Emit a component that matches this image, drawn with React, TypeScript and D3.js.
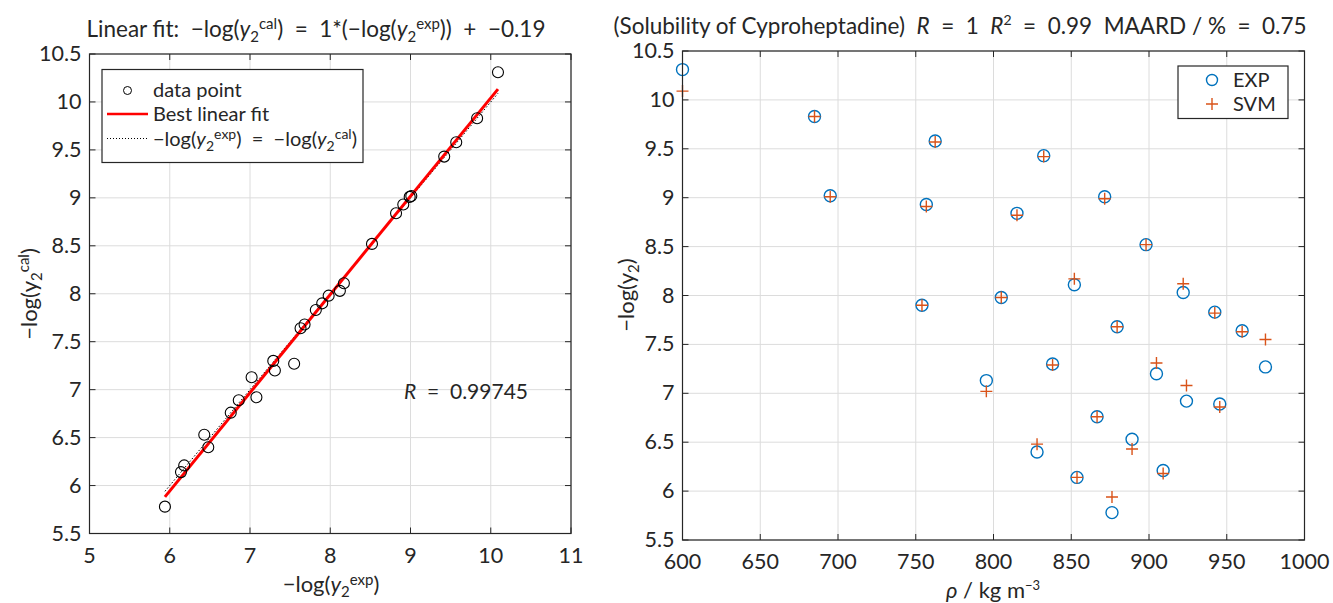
import React from "react";
import * as d3 from "d3";

const rho = [600, 684.9, 695, 756.8, 762.5, 832.3, 815.1, 871.5, 898.1, 852, 922, 754, 805, 879.5, 942.3, 959.9, 974.9, 795.4, 838, 904.8, 924.1, 945.5, 866.6, 828, 889.1, 853.7, 909.1, 876.2];
const expVals = [10.31, 9.83, 9.02, 8.93, 9.58, 9.43, 8.84, 9.01, 8.52, 8.11, 8.03, 7.9, 7.98, 7.68, 7.83, 7.64, 7.27, 7.13, 7.3, 7.2, 6.92, 6.89, 6.76, 6.4, 6.53, 6.14, 6.21, 5.78];
const svmVals = [10.09, 9.83, 9.01, 8.91, 9.57, 9.42, 8.82, 8.99, 8.52, 8.17, 8.12, 7.9, 7.98, 7.68, 7.82, 7.63, 7.55, 7.02, 7.29, 7.31, 7.08, 6.86, 6.76, 6.48, 6.43, 6.14, 6.18, 5.94];

const leftXTicks = [5, 6, 7, 8, 9, 10, 11];
const yTicks = [5.5, 6, 6.5, 7, 7.5, 8, 8.5, 9, 9.5, 10, 10.5];
const rhoTicks = [600, 650, 700, 750, 800, 850, 900, 950, 1000];

const FONT = "Lato, 'Open Sans', sans-serif";
const AX = "#262626";
const GRID = "#dcdcdc";
const BLUE = "#0072BD";
const ORANGE = "#D95319";
const TICK_FS = 21.5;

function Grid({ x, y, xTicks, yTicksArr }: any) {
  const [x0, x1] = x.range();
  const [y0, y1] = y.range();
  return (
    <g>
      {xTicks.map((t: number) => (
        <line key={"gx" + t} x1={x(t)} x2={x(t)} y1={y0} y2={y1} stroke={GRID} strokeWidth={1} />
      ))}
      {yTicksArr.map((t: number) => (
        <line key={"gy" + t} x1={x0} x2={x1} y1={y(t)} y2={y(t)} stroke={GRID} strokeWidth={1} />
      ))}
    </g>
  );
}

function Frame({ x, y, xTicks, yTicksArr }: any) {
  const [x0, x1] = x.range();
  const [y0, y1] = y.range();
  const tl = 6;
  return (
    <g>
      <rect x={x0} y={y1} width={x1 - x0} height={y0 - y1} fill="none" stroke={AX} strokeWidth={1.2} />
      {xTicks.map((t: number) => (
        <g key={"tx" + t}>
          <line x1={x(t)} x2={x(t)} y1={y0} y2={y0 - tl} stroke={AX} />
          <line x1={x(t)} x2={x(t)} y1={y1} y2={y1 + tl} stroke={AX} />
          <text x={x(t)} y={y0 + 29} textAnchor="middle" fontSize={TICK_FS} fill={AX} fontFamily={FONT}>{String(t)}</text>
        </g>
      ))}
      {yTicksArr.map((t: number) => (
        <g key={"ty" + t}>
          <line x1={x0} x2={x0 + tl} y1={y(t)} y2={y(t)} stroke={AX} />
          <line x1={x1} x2={x1 - tl} y1={y(t)} y2={y(t)} stroke={AX} />
          <text x={x0 - 8} y={y(t) + 7} textAnchor="end" fontSize={TICK_FS} fill={AX} fontFamily={FONT}>{String(t)}</text>
        </g>
      ))}
    </g>
  );
}

export default function App() {
  const lx = d3.scaleLinear().domain([5, 11]).range([89.5, 571]);
  const ly = d3.scaleLinear().domain([5.5, 10.5]).range([533.5, 54]);
  const rx = d3.scaleLinear().domain([600, 1000]).range([682.5, 1304.5]);
  const ry = d3.scaleLinear().domain([5.5, 10.5]).range([540, 51]);

  const n = svmVals.length;
  const mx = d3.mean(svmVals) as number;
  const my = d3.mean(expVals) as number;
  let sxy = 0, sxx = 0;
  for (let i = 0; i < n; i++) {
    sxy += (svmVals[i] - mx) * (expVals[i] - my);
    sxx += (svmVals[i] - mx) ** 2;
  }
  const slope = sxy / sxx;
  const icpt = my - slope * mx;
  const xmin = d3.min(svmVals) as number;
  const xmax = d3.max(svmVals) as number;
  const fitLine = d3.line<number>().x((v) => lx(v)).y((v) => ly(slope * v + icpt));
  const idLine = d3.line<number>().x((v) => lx(v)).y((v) => ly(v));

  const plus = (cx: number, cy: number, k: number) => (
    <path key={"p" + k} d={`M${cx - 6},${cy}H${cx + 6}M${cx},${cy - 6}V${cy + 6}`} stroke={ORANGE} strokeWidth={1.4} fill="none" />
  );
  const pre = { whiteSpace: "pre" } as any;

  return (
    <svg width={1333} height={603} style={{ position: "absolute", left: 0, top: 0, background: "#fff" }} fontFamily={FONT}>
      <rect width={1333} height={603} fill="#fff" />
      {/* LEFT PLOT */}
      <Grid x={lx} y={ly} xTicks={leftXTicks} yTicksArr={yTicks} />
      <path d={idLine([xmin, xmax]) as string} stroke="#000" strokeWidth={1} strokeDasharray="1.5,2" fill="none" />
      <path d={fitLine([xmin, xmax]) as string} stroke="#FF0000" strokeWidth={3} fill="none" />
      {svmVals.map((v, i) => (
        <circle key={"lc" + i} cx={lx(v)} cy={ly(expVals[i])} r={5.5} fill="none" stroke="#000" strokeWidth={1.1} />
      ))}
      <Frame x={lx} y={ly} xTicks={leftXTicks} yTicksArr={yTicks} />
      <text x={316} y={37} textAnchor="middle" fontSize={22.5} fill={AX} style={pre}>
        Linear fit:  −log(<tspan fontStyle="italic">y</tspan><tspan fontSize={15} dy={5}>2</tspan><tspan fontSize={15} dy={-13}>cal</tspan><tspan dy={8}>)  =  1*(−log(</tspan><tspan fontStyle="italic">y</tspan><tspan fontSize={15} dy={5}>2</tspan><tspan fontSize={15} dy={-13}>exp</tspan><tspan dy={8}>))  +  −0.19</tspan>
      </text>
      {/* legend */}
      <rect x={102} y={69.5} width={261} height={93} fill="#fff" stroke={AX} strokeWidth={1.2} />
      <circle cx={127.5} cy={90.5} r={4} fill="none" stroke="#000" strokeWidth={1} />
      <text x={153} y={97} fontSize={20} fill={AX}>data point</text>
      <line x1={107} x2={148} y1={114} y2={114} stroke="#FF0000" strokeWidth={2.5} />
      <text x={153} y={121} fontSize={20} fill={AX}>Best linear fit</text>
      <line x1={107} x2={148} y1={138.5} y2={138.5} stroke="#000" strokeWidth={1} strokeDasharray="1,2" />
      <text x={153} y={146} fontSize={20} fill={AX} style={pre}>
        −log(<tspan fontStyle="italic">y</tspan><tspan fontSize={14} dy={5}>2</tspan><tspan fontSize={14} dy={-12}>exp</tspan><tspan dy={7}>)  =  −log(</tspan><tspan fontStyle="italic">y</tspan><tspan fontSize={14} dy={5}>2</tspan><tspan fontSize={14} dy={-12}>cal</tspan><tspan dy={7}>)</tspan>
      </text>
      <text x={404} y={399} fontSize={21} fill={AX} style={pre}>
        <tspan fontStyle="italic">R</tspan>  =  0.99745
      </text>
      <text x={331} y={592} textAnchor="middle" fontSize={22} fill={AX}>
        −log(<tspan fontStyle="italic">y</tspan><tspan fontSize={15} dy={5}>2</tspan><tspan fontSize={15} dy={-12}>exp</tspan><tspan dy={7}>)</tspan>
      </text>
      <text transform="translate(37,294) rotate(-90)" textAnchor="middle" fontSize={22} fill={AX}>
        −log(y<tspan fontSize={15} dy={5}>2</tspan><tspan fontSize={15} dy={-13}>cal</tspan><tspan dy={8}>)</tspan>
      </text>

      {/* RIGHT PLOT */}
      <Grid x={rx} y={ry} xTicks={rhoTicks} yTicksArr={yTicks} />
      {rho.map((r, i) => (
        <circle key={"rc" + i} cx={rx(r)} cy={ry(expVals[i])} r={6} fill="none" stroke={BLUE} strokeWidth={1.4} />
      ))}
      {rho.map((r, i) => plus(rx(r), ry(svmVals[i]), i))}
      <Frame x={rx} y={ry} xTicks={rhoTicks} yTicksArr={yTicks} />
      <text x={960} y={34} textAnchor="middle" fontSize={22.5} fill={AX} style={pre}>
        (Solubility of Cyproheptadine)  <tspan fontStyle="italic">R</tspan>  =  1  <tspan fontStyle="italic">R</tspan><tspan fontSize={14} dy={-9}>2</tspan><tspan dy={9}>  =  0.99  MAARD / %  =  0.75</tspan>
      </text>
      <text x={993} y={598} textAnchor="middle" fontSize={22} fill={AX} style={pre}>
        <tspan fontStyle="italic">ρ</tspan> / kg m<tspan fontSize={13} dy={-8}>−3</tspan>
      </text>
      <text transform="translate(634,295) rotate(-90)" textAnchor="middle" fontSize={22} fill={AX}>
        −log(y<tspan fontSize={15} dy={5}>2</tspan><tspan dy={-5}>)</tspan>
      </text>
      {/* right legend */}
      <rect x={1178} y={66} width={110} height={52.5} fill="#fff" stroke={AX} strokeWidth={1.2} />
      <circle cx={1212} cy={80} r={5.5} fill="none" stroke={BLUE} strokeWidth={1.4} />
      <text x={1233} y={87} fontSize={20} fill={AX}>EXP</text>
      {plus(1212, 104, 999)}
      <text x={1233} y={111} fontSize={20} fill={AX}>SVM</text>
    </svg>
  );
}
